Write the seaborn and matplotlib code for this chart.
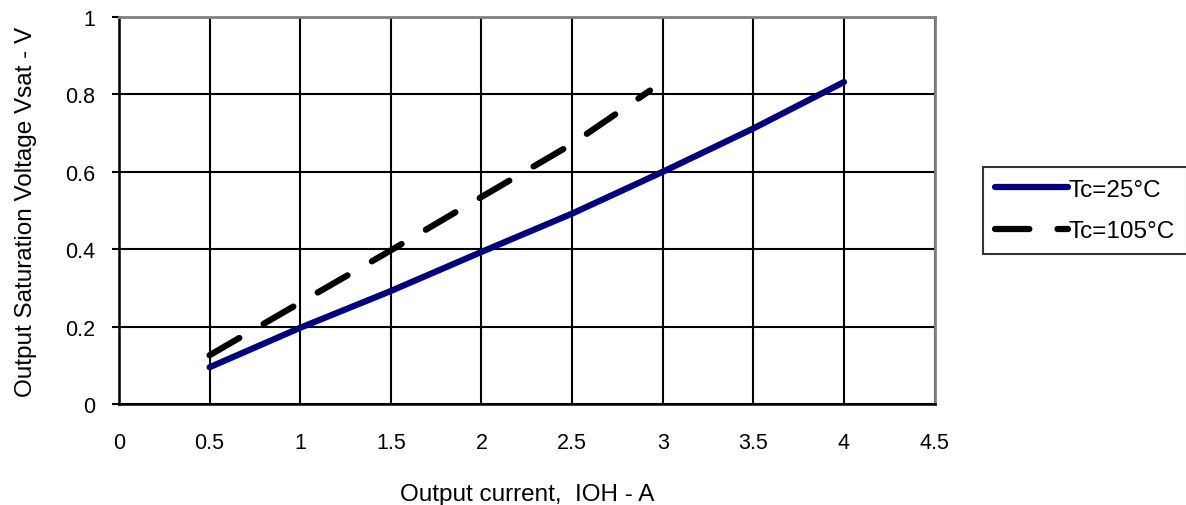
import pandas as pd
import seaborn as sns
import matplotlib.pyplot as plt

current_25 = [0.5, 1.0, 1.5, 2.0, 2.5, 3.0, 3.5, 4.0]
vsat_25 = [0.095, 0.197, 0.292, 0.393, 0.492, 0.600, 0.712, 0.832]
current_105 = [0.5, 1.0, 1.5, 2.0, 2.5, 2.93]
vsat_105 = [0.126, 0.262, 0.397, 0.535, 0.672, 0.810]
x_ticks = [0, 0.5, 1, 1.5, 2, 2.5, 3, 3.5, 4, 4.5]
y_ticks = [0, 0.2, 0.4, 0.6, 0.8, 1]

df25 = pd.DataFrame({'I': current_25, 'V': vsat_25})
df105 = pd.DataFrame({'I': current_105, 'V': vsat_105})

sns.set_style('white')
plt.rcParams['font.family'] = ['Liberation Sans', 'DejaVu Sans']
plt.rcParams['text.color'] = 'black'
plt.rcParams['axes.labelcolor'] = 'black'
plt.rcParams['xtick.color'] = 'black'
plt.rcParams['ytick.color'] = 'black'

fig = plt.figure(figsize=(11.86, 5.06), dpi=100)
ax = fig.add_axes([0.1003, 0.1996, 0.6877, 0.7648])

sns.lineplot(data=df25, x='I', y='V', ax=ax, color='#000080', linewidth=4.5,
             solid_capstyle='round', label='Tc=25°C')
sns.lineplot(data=df105, x='I', y='V', ax=ax, color='black', linewidth=4.5,
             dashes=False, label='Tc=105°C')
ax.lines[1].set_dashes([5.5, 4.5])
ax.lines[1].set_dash_capstyle('round')

ax.set_xlim(0, 4.5)
ax.set_ylim(0, 1)
ax.set_xticks(x_ticks)
ax.set_xticklabels([f'{t:g}' for t in x_ticks])
ax.set_yticks(y_ticks)
ax.set_yticklabels([f'{t:g}' for t in y_ticks])
ax.grid(True, color='black', linewidth=1.5)
ax.set_axisbelow(True)
ax.tick_params(axis='both', labelsize=15.5, direction='out')
ax.tick_params(axis='y', length=5, width=1.5, left=True, pad=12)
ax.tick_params(axis='x', length=0, bottom=False, pad=20)

for side in ['left', 'bottom']:
    ax.spines[side].set_color('black')
    ax.spines[side].set_linewidth(1.8)
for side in ['top', 'right']:
    ax.spines[side].set_color('#808080')
    ax.spines[side].set_linewidth(2)

ax.set_xlabel('Output current,  IOH - A', fontsize=17.5, labelpad=22)
ax.set_ylabel('Output Saturation Voltage Vsat - V', fontsize=17.5, labelpad=20)

leg = ax.legend(loc='center left', bbox_to_anchor=(1.059, 0.5), fontsize=17.5,
                frameon=True, fancybox=False, edgecolor='black',
                handlelength=3.0, handletextpad=0.05, borderpad=0.5,
                labelspacing=0.8, borderaxespad=0)
leg.get_frame().set_linewidth(1.5)

fig.savefig('out.png', dpi=100)
